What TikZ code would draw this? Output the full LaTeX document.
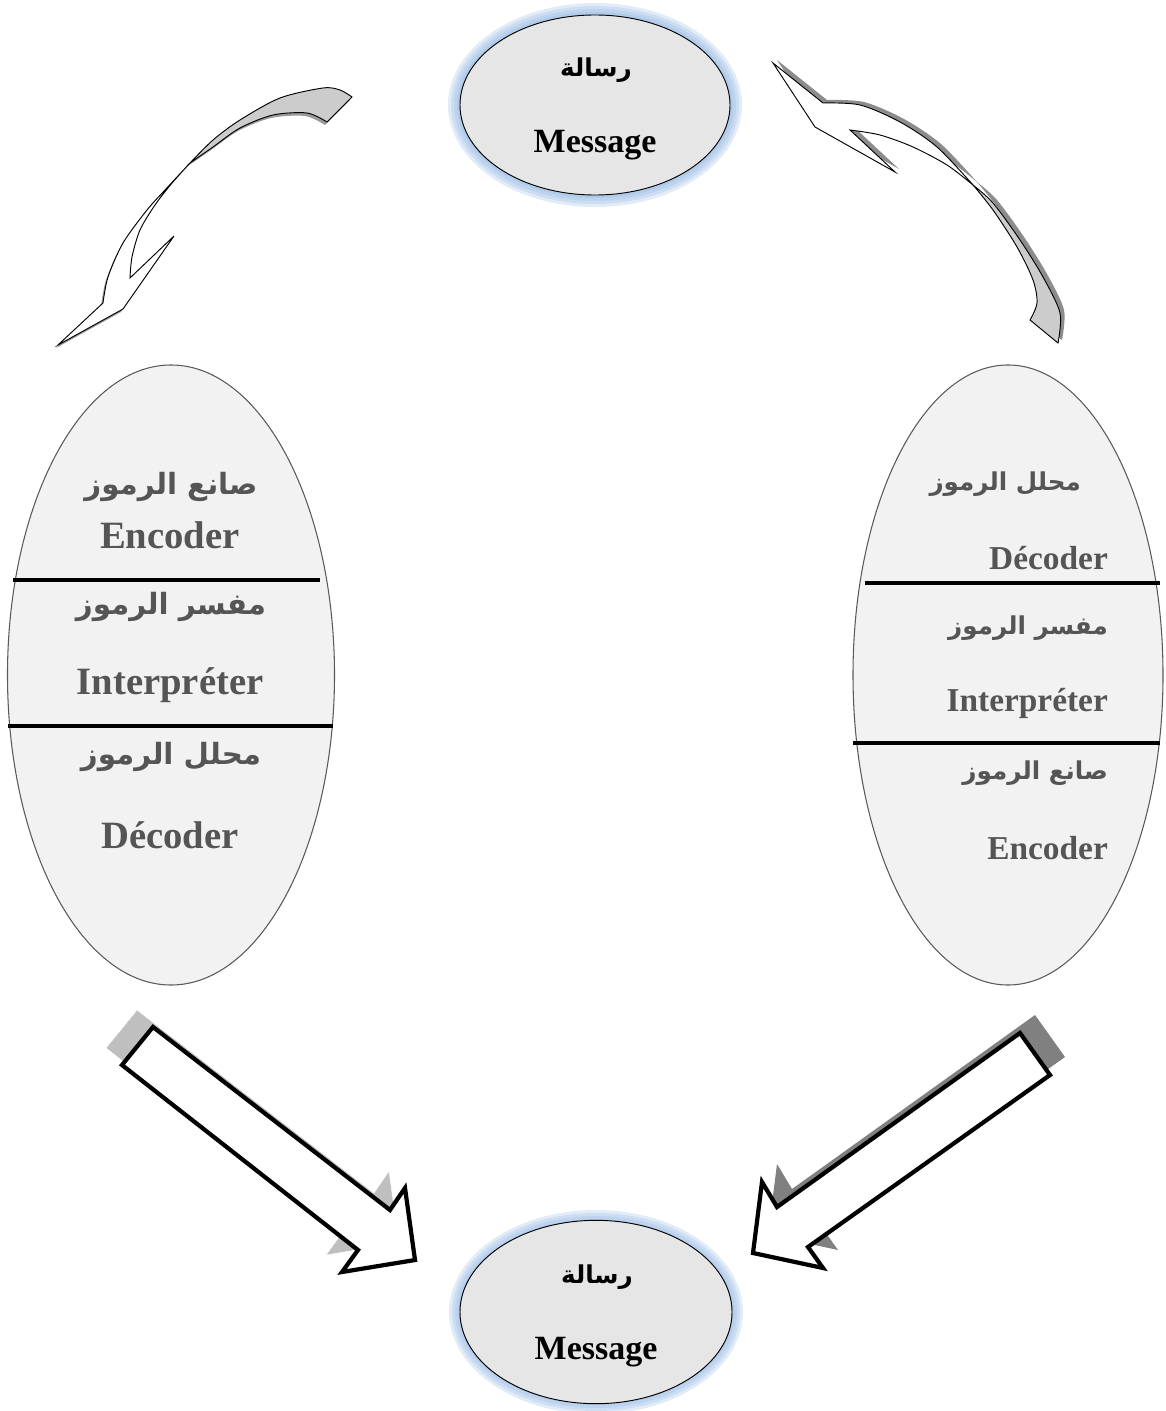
\documentclass[tikz,border=0pt]{standalone}
\usepackage{fontspec}
\setmainfont{Liberation Serif}
\newfontfamily\arabicfont[Script=Arabic]{DejaVu Sans}
\TeXXeTstate=1
\usetikzlibrary{positioning,shapes.geometric}
\definecolor{glowblue}{HTML}{8DB3E2}
\definecolor{msgfill}{HTML}{E6E6E6}
\definecolor{sidefill}{HTML}{F2F2F2}
\definecolor{txtgray}{HTML}{555555}
\newcommand{\ar}[1]{\arabicfont\fontsize{#1}{#1}\selectfont\bfseries}
% outlines of the bent arrows (pixel units)
\newcommand{\lefttail}{plot[smooth] coordinates {(190,163) (213,140) (240,120) (280,98) (323,88) (340,90) (352,97)} -- (327,122) -- plot[smooth] coordinates {(327,122) (307,113) (273,115) (240,128) (213,147) (190,163)} -- cycle}
\newcommand{\lefthead}{plot[smooth] coordinates {(190,163) (165,190) (147,210) (123,243) (108,277) (103,303)} -- (58,345) -- (123,309) -- (174,236) -- plot[smooth] coordinates {(130,278) (132,257) (140,230) (155,205) (172,183) (190,163)} -- cycle}
\newcommand{\righttail}{plot[smooth] coordinates {(973,185) (993,203) (1020,240) (1043,277) (1060,313) (1058,343)} -- (1030,320) -- plot[smooth] coordinates {(1030,320) (1037,303) (1033,280) (1017,247) (993,210) (973,185)} -- cycle}
\newcommand{\righthead}{plot[smooth] coordinates {(973,185) (937,147) (900,122) (860,105) (823,103)} -- (773,63) -- (815,127) -- (895,172) -- plot[smooth] coordinates {(850,130) (880,135) (913,147) (947,165) (973,185)} -- cycle}
\newcommand{\leftblock}{(153,1027) -- (122,1065) -- (358,1250) -- (342,1272) -- (415,1260) -- (405,1188) -- (390,1210) -- cycle}
\newcommand{\rightblock}{(1020,1033) -- (1050,1075) -- (808,1247) -- (823,1268) -- (753,1253) -- (762,1182) -- (777,1207) -- cycle}

\begin{document}
\begin{tikzpicture}[x=0.03cm,y=-0.03cm,
    msg/.style={ellipse,draw=black,line width=0.8pt,fill=msgfill,
      minimum width=8.1cm,minimum height=5.4cm},
    side/.style={ellipse,draw=black!65,line width=0.9pt,fill=sidefill},
    lbl/.style={text=txtgray,font=\fontsize{33}{38}\selectfont\bfseries},
    lblr/.style={text=txtgray,font=\fontsize{28.5}{33}\selectfont\bfseries,anchor=east},
    mtxt/.style={font=\fontsize{29}{34}\selectfont\bfseries},
    sep/.style={line width=2.6pt},
    bent/.style={draw=black,line width=0.8pt},
    block/.style={draw=black,line width=3.6pt,fill=white,line join=miter}]

  \useasboundingbox (0,0) rectangle (1165,1411);

  % the glow round the messages
  \foreach \c in {(595,105),(596,1312)}
    \foreach \g in {0.36,0.27,0.18,0.09}
      \fill[glowblue,opacity=0.25] \c ellipse [x radius=4.05cm+\g cm,y radius=2.7cm+\g cm];

  % the messages
  \node[msg] (mtop) at (595,105) {};
  \node[msg,minimum width=8.16cm,minimum height=5.5cm] (mbot) at (596,1312) {};
  \node[mtxt] (mtopa) at (596,70) {\ar{21}\beginR رسالة\endR};
  \node[mtxt] (mtopb) at (595,145) {Message};
  \node[mtxt] (mbota) at (597,1277) {\ar{21}\beginR رسالة\endR};
  \node[mtxt] (mbotb) at (596,1352) {Message};

  % the two actors
  \node[side,minimum width=9.81cm,minimum height=18.6cm] (lft) at (171,675) {};
  \node[side,minimum width=9.3cm,minimum height=18.6cm] (rgt) at (1008,675) {};
  \draw[sep] (13,580) -- (320,580);
  \draw[sep] (8,726) -- (333,726);
  \draw[sep] (865,583) -- (1160,583);
  \draw[sep] (853,743) -- (1160,743);

  % the texts
  \node[lbl] (l1) at (171,487) {\ar{25}\beginR صانع الرموز\endR};
  \node[lbl] (l2) at (170,535) {Encoder};
  \node[lbl] (l3) at (171,607) {\ar{25}\beginR مفسر الرموز\endR};
  \node[lbl] (l4) at (170,685) {Interpréter};
  \node[lbl] (l5) at (171,757) {\ar{25}\beginR محلل الرموز\endR};
  \node[lbl] (l6) at (170,835) {Décoder};
  \node[lblr] (r1) at (1085,484) {\ar{21}\beginR محلل الرموز\endR};
  \node[lblr] (r2) at (1112,558) {Décoder};
  \node[lblr] (r3) at (1112,628) {\ar{21}\beginR مفسر الرموز\endR};
  \node[lblr] (r4) at (1112,703) {Interpréter};
  \node[lblr] (r5) at (1112,773) {\ar{21}\beginR صانع الرموز\endR};
  \node[lblr] (r6) at (1112,848) {Encoder};

  % bent arrows at the top
  \fill[black!40,shift={(-2,3)}] \lefttail \lefthead;
  \draw[bent,fill=black!20] \lefttail;
  \draw[bent,fill=white] \lefthead;
  \fill[black!45,shift={(4,-3)}] \righttail \righthead;
  \draw[bent,fill=black!20] \righttail;
  \draw[bent,fill=white] \righthead;

  % block arrows at the bottom
  \fill[black!25,draw=white,shift={(-16,-17)}] \leftblock;
  \draw[block] \leftblock;
  \fill[black!50,shift={(15,-18)}] \rightblock;
  \draw[block] \rightblock;

\end{tikzpicture}
\end{document}
